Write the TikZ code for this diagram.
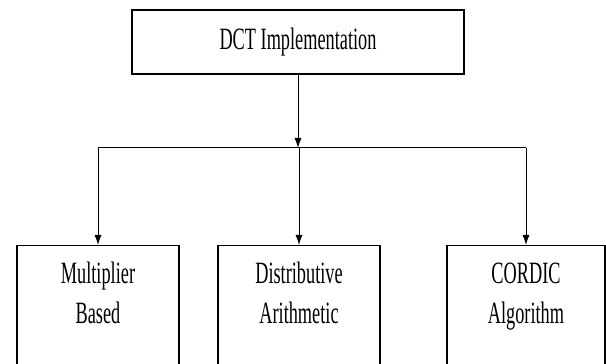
\documentclass[tikz,border=0pt]{standalone}
\usepackage{fontspec}
\usepackage{graphicx}
\setmainfont{Liberation Serif}
\usetikzlibrary{arrows.meta}
\newcommand{\squeeze}[1]{\scalebox{0.59}[1]{#1}}
\tikzset{
    box/.style={draw=black,line width=1.3pt,inner sep=0pt,font=\fontsize{31}{40}\selectfont},
    leaf/.style={box,minimum width=162pt,text height=38pt,text depth=120pt,anchor=north},
    arr/.style={line width=1pt,-{Latex[length=10pt,width=7pt]}}
}

\begin{document}
\begin{tikzpicture}[x=1pt,y=1pt]
        \useasboundingbox (0,0) rectangle (606,364);
        \clip (0,0) rectangle (606,364);

        \node[box,minimum width=332pt,minimum height=64pt] (dct) at (298,322) {\squeeze{DCT Implementation}};

        \node[leaf] (mult) at (98,119) {\squeeze{\begin{tabular}[t]{@{}c@{}}Multiplier\\Based\end{tabular}}};
        \node[leaf] (dist) at (299,119) {\squeeze{\begin{tabular}[t]{@{}c@{}}Distributive\\Arithmetic\end{tabular}}};
        \node[leaf,minimum width=158pt] (cordic) at (526,119) {\squeeze{\begin{tabular}[t]{@{}c@{}}CORDIC\\Algorithm\end{tabular}}};

        \coordinate (split) at (298,216);

        \draw[arr] (dct.south) -- (split);
        \draw[line width=1pt] (mult.north |- split) -- (cordic.north |- split);
        \draw[arr] (mult.north |- split) -- (mult.north);
        \draw[arr] (dist.north |- split) -- (dist.north);
        \draw[arr] (cordic.north |- split) -- (cordic.north);
    \end{tikzpicture}
\end{document}
